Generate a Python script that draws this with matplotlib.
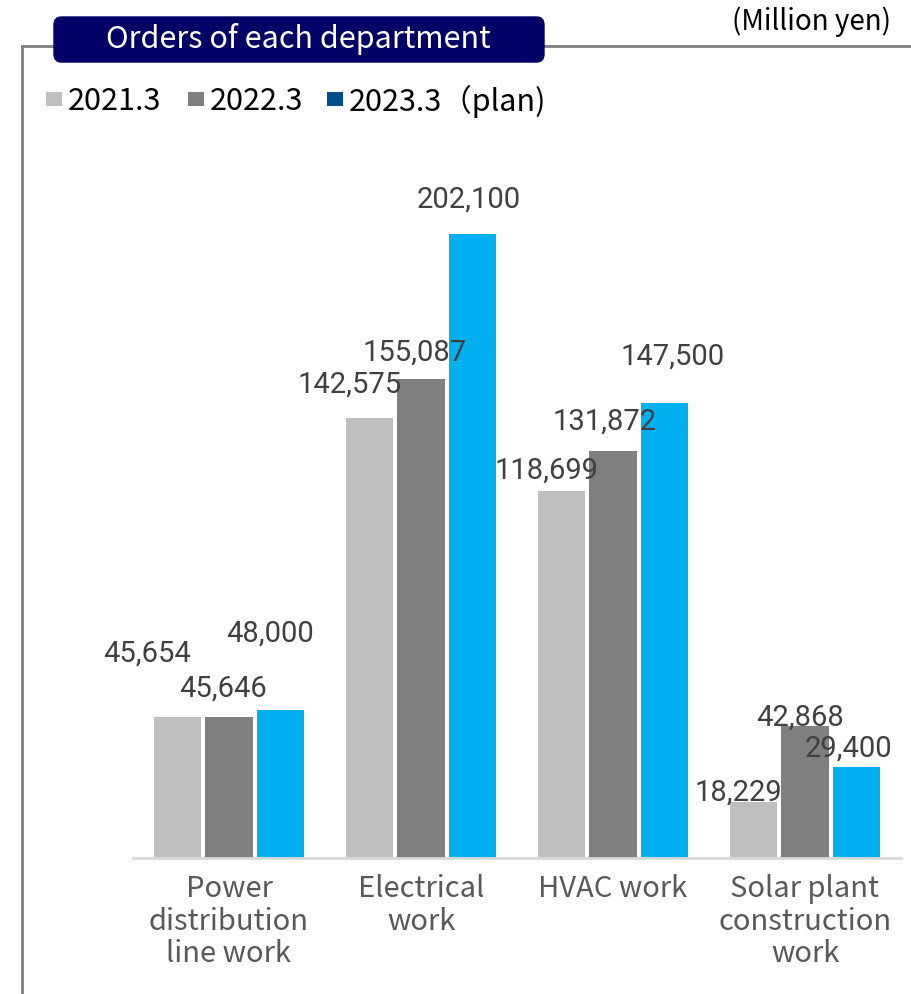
import matplotlib.pyplot as plt
import numpy as np
from matplotlib.patches import FancyBboxPatch, Rectangle
from matplotlib.lines import Line2D

plt.rcParams['font.family'] = ['Noto Sans CJK JP', 'DejaVu Sans']

# data
departments = ['Power\ndistribution\nline work', 'Electrical\nwork', 'HVAC work',
               'Solar plant\nconstruction\nwork']
series_names = ['2021.3', '2022.3', '2023.3（plan)']
fy2021 = [45654, 142575, 118699, 18229]
fy2022 = [45646, 155087, 131872, 42868]
fy2023 = [48000, 202100, 147500, 29400]

bar_colors = ['#BFBFBF', '#7F7F7F', '#00B0F0']
legend_colors = ['#BFBFBF', '#7F7F7F', '#004C8C']

# label offsets in pixels (dx, dy up) from the top centre of each bar
label_offsets = [
    [(-31, 64), (-6, 29), (-10, 77)],
    [(-20, 34), (-6, 28), (-3, 35)],
    [(-15, 22), (-8, 30), (9, 47)],
    [(-16, 10), (-5, 9), (-8, 20)],
]

W, H = 911, 995
fig = plt.figure(figsize=(W / 100, H / 100), dpi=100)

# axes placed in pixel terms
ax_left, ax_right, ax_bottom, ax_top = 133, 901, 859, 130
ax = fig.add_axes([ax_left / W, (H - ax_bottom) / H,
                   (ax_right - ax_left) / W, (ax_bottom - ax_top) / H])
ymax = 236100
ax.set_ylim(0, ymax)
ax.set_xlim(-0.5, 3.5)

x = np.arange(len(departments))
width = 0.245
step = 0.266
all_series = [fy2021, fy2022, fy2023]

for i, vals in enumerate(all_series):
    bars = ax.bar(x + (i - 1) * step, vals, width, color=bar_colors[i], zorder=2)
    for j, b in enumerate(bars):
        dx, dy = label_offsets[j][i]
        ax.annotate(f'{vals[j]:,}', (b.get_x() + b.get_width() / 2, b.get_height()),
                    xytext=(dx * 0.72, dy * 0.72), textcoords='offset points',
                    ha='center', va='center', fontsize=21, color='#404040',
                    family=['Roboto', 'DejaVu Sans'], zorder=3)

for s in ['top', 'right', 'left']:
    ax.spines[s].set_visible(False)
ax.spines['bottom'].set_color('#D9D9D9')
ax.spines['bottom'].set_linewidth(2)
ax.set_yticks([])
ax.set_xticks(x)
ax.set_xticklabels(departments, fontsize=21, color='#595959', linespacing=1.1, va='top')
ax.tick_params(axis='x', length=0, pad=11)

# frame lines
fig.add_artist(Line2D([22 / W, 1], [1 - 47 / H, 1 - 47 / H], color='#808080', lw=2))
fig.add_artist(Line2D([22 / W, 22 / W], [1 - 47 / H, 0], color='#808080', lw=2))

# title box
box = FancyBboxPatch((54 / W, 1 - 63 / H), 490 / W, 45 / H,
                     boxstyle='round,pad=0,rounding_size=0.008',
                     transform=fig.transFigure, facecolor='#000066',
                     edgecolor='#000066', zorder=5)
fig.add_artist(box)
fig.text(298 / W, 1 - 39 / H, 'Orders of each department', color='white',
         fontsize=22, ha='center', va='center', zorder=6)
fig.text(812 / W, 1 - 22 / H, '(Million yen)', color='#000000',
         fontsize=20, ha='center', va='center')

# legend
leg_x = [46, 188, 327]
for i, name in enumerate(series_names):
    fig.add_artist(Rectangle((leg_x[i] / W, 1 - 107 / H), 16 / W, 14 / H,
                             transform=fig.transFigure, facecolor=legend_colors[i],
                             edgecolor='none'))
    fig.text((leg_x[i] + 22) / W, 1 - 101 / H, name, fontsize=22,
             color='#000000', ha='left', va='center')

fig.savefig('out.png', dpi=100)
